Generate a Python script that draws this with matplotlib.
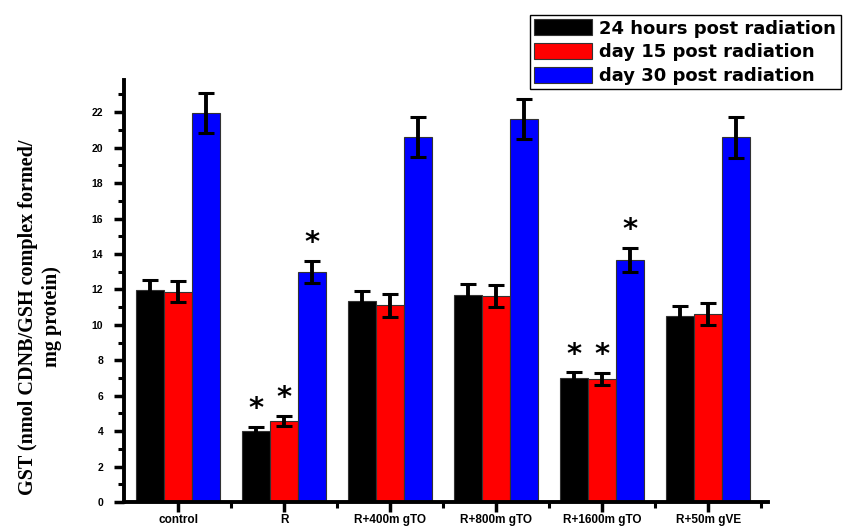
import numpy as np
import matplotlib.pyplot as plt
from matplotlib.ticker import MultipleLocator, FixedLocator

# group labels and series (mean, error)
groups = ['control', 'R', 'R+400m gTO', 'R+800m gTO', 'R+1600m gTO', 'R+50m gVE']
series_names = ['24 hours post radiation', 'day 15 post radiation', 'day 30 post radiation']
h24 = [11.97, 4.03, 11.35, 11.67, 6.98, 10.52]
h24_err = [0.57, 0.22, 0.57, 0.65, 0.35, 0.56]
d15 = [11.88, 4.58, 11.11, 11.63, 6.95, 10.63]
d15_err = [0.60, 0.30, 0.65, 0.60, 0.35, 0.62]
d30 = [21.95, 13.00, 20.60, 21.61, 13.66, 20.59]
d30_err = [1.12, 0.62, 1.15, 1.13, 0.68, 1.16]

# which bars carry a significance star
stars = [
    [False, True, False, False, True, False],
    [False, True, False, False, True, False],
    [False, True, False, False, True, False],
]

colors = ['#000000', '#ff0000', '#0000ff']
width = 0.264

fig = plt.figure(figsize=(8.52, 5.28), dpi=100)
ax = fig.add_axes([0.1455, 0.049, 0.756, 0.799])

x = np.arange(len(groups))
all_vals = [h24, d15, d30]
all_errs = [h24_err, d15_err, d30_err]
handles = []
for i, (vals, errs) in enumerate(zip(all_vals, all_errs)):
    pos = x + (i - 1) * width
    b = ax.bar(pos, vals, width, color=colors[i], edgecolor='#333333', linewidth=0.8,
               label=series_names[i], zorder=2)
    handles.append(b)
    ax.errorbar(pos, vals, yerr=errs, fmt='none', ecolor='black', elinewidth=2.8,
                capsize=5.5, capthick=2.2, zorder=3)
    for j in range(len(groups)):
        if stars[i][j]:
            ax.text(pos[j], vals[j] + errs[j] + 0.2, '*', ha='center', va='bottom',
                    fontsize=21, fontweight='bold', color='black', zorder=4)

ax.set_xlim(-0.51, 5.565)
ax.set_ylim(0, 23.8)

for s in ['top', 'right']:
    ax.spines[s].set_visible(False)
for s in ['left', 'bottom']:
    ax.spines[s].set_linewidth(2.8)

ax.yaxis.set_major_locator(MultipleLocator(2))
ax.yaxis.set_minor_locator(MultipleLocator(1))
ax.set_xticks(x)
ax.set_xticklabels(groups)
ax.xaxis.set_minor_locator(FixedLocator(np.arange(0.5, 6.0, 1.0)))
ax.tick_params(axis='both', which='major', direction='out', length=7, width=2.5)
ax.tick_params(axis='both', which='minor', direction='out', length=4, width=2.2)
ax.tick_params(axis='y', labelsize=7.5, pad=8)
ax.tick_params(axis='x', labelsize=8.5, pad=1.5)
for lbl in ax.get_xticklabels() + ax.get_yticklabels():
    lbl.set_fontfamily('Liberation Sans')
    lbl.set_fontweight('bold')

fig.text(0.047, 0.40, 'GST (nmol CDNB/GSH complex formed/\nmg protein)', rotation=90,
         ha='center', va='center', fontsize=14.5, fontweight='bold',
         family='Liberation Serif', linespacing=1.3)

fig.legend(handles=handles, loc='upper left', bbox_to_anchor=(0.622, 0.972),
           prop={'family': 'DejaVu Sans', 'weight': 'bold', 'size': 13},
           frameon=True, fancybox=False, edgecolor='black', framealpha=1,
           handlelength=3.2, handleheight=1.0, handletextpad=0.4, labelspacing=0.3,
           borderpad=0.25, borderaxespad=0)

fig.savefig('out.png', dpi=100)
